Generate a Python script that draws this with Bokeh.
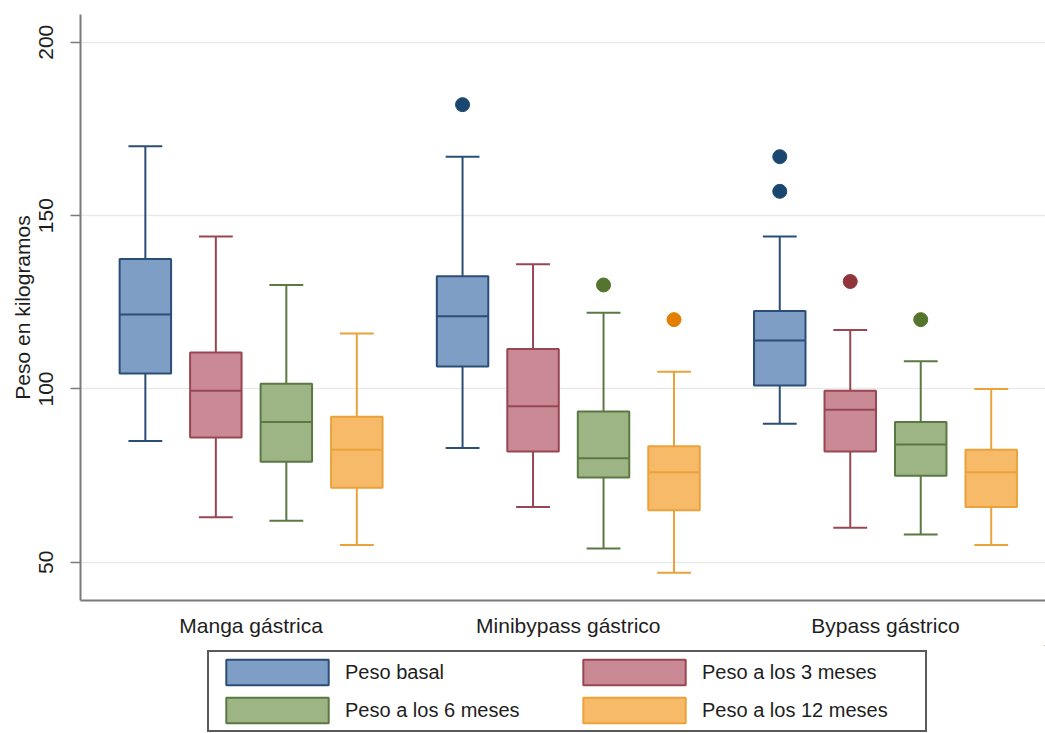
from bokeh.plotting import figure
from bokeh.layouts import column
from bokeh.models import ColumnDataSource, FixedTicker, Legend, LegendItem, Range1d
from bokeh.embed import file_html
from bokeh.resources import INLINE

# ---------------- data ----------------
groups = ["Manga gástrica", "Minibypass gástrico", "Bypass gástrico"]
series = ["Peso basal", "Peso a los 3 meses", "Peso a los 6 meses", "Peso a los 12 meses"]

basal_lo = [85, 83, 90]
basal_q1 = [104.5, 106.5, 101]
basal_med = [121.5, 121, 114]
basal_q3 = [137.5, 132.5, 122.5]
basal_hi = [170, 167, 144]

m3_lo = [63, 66, 60]
m3_q1 = [86, 82, 82]
m3_med = [99.5, 95, 94]
m3_q3 = [110.5, 111.5, 99.5]
m3_hi = [144, 136, 117]

m6_lo = [62, 54, 58]
m6_q1 = [79, 74.5, 75]
m6_med = [90.5, 80, 84]
m6_q3 = [101.5, 93.5, 90.5]
m6_hi = [130, 122, 108]

m12_lo = [55, 47, 55]
m12_q1 = [71.5, 65, 66]
m12_med = [82.5, 76, 76]
m12_q3 = [92, 83.5, 82.5]
m12_hi = [116, 105, 100]

# outliers: (group index, value)
basal_out = [(1, 182), (2, 167), (2, 157)]
m3_out = [(2, 131)]
m6_out = [(1, 130), (2, 120)]
m12_out = [(1, 120)]

y_ticks = [50, 100, 150, 200]

# ---------------- styles ----------------
fills = ["#7f9ec6", "#c98a95", "#9db585", "#f6ba69"]
lines = ["#2b4e76", "#984653", "#5b7843", "#eba23a"]
dots = ["#1a476f", "#90353b", "#55752f", "#e37e00"]
FONT = "Liberation Sans"
TXT = "#1e1e1e"
GROUP_STEP = 4.5
BOX_W = 0.73
CAP_W = 0.48

stats = [
    (basal_lo, basal_q1, basal_med, basal_q3, basal_hi, basal_out),
    (m3_lo, m3_q1, m3_med, m3_q3, m3_hi, m3_out),
    (m6_lo, m6_q1, m6_med, m6_q3, m6_hi, m6_out),
    (m12_lo, m12_q1, m12_med, m12_q3, m12_hi, m12_out),
]

p = figure(width=1045, height=645, output_backend="svg", toolbar_location=None,
           x_range=Range1d(-0.92, 12.77), y_range=Range1d(39, 208),
           min_border_left=80, min_border_right=0, min_border_top=14, min_border_bottom=45)
p.outline_line_color = None
p.background_fill_color = "white"
p.border_fill_color = "white"

# legend-only figure below the plot
lg = figure(width=1045, height=88, output_backend="svg", toolbar_location=None,
            x_range=Range1d(0, 1), y_range=Range1d(0, 1),
            x_axis_location=None, y_axis_location=None,
            min_border_left=0, min_border_right=0, min_border_top=0, min_border_bottom=0)
lg.outline_line_color = None
lg.grid.visible = False
lg.background_fill_color = "white"
lg.border_fill_color = "white"

items = {}
for s, (lo, q1, med, q3, hi, out) in enumerate(stats):
    xs = [g * GROUP_STEP + s for g in range(len(groups))]
    src = ColumnDataSource(dict(x=xs, lo=lo, q1=q1, med=med, q3=q3, hi=hi,
                                cl=[x - CAP_W / 2 for x in xs], cr=[x + CAP_W / 2 for x in xs],
                                bl=[x - BOX_W / 2 for x in xs], br=[x + BOX_W / 2 for x in xs]))
    p.segment(x0="x", y0="q3", x1="x", y1="hi", source=src, line_color=lines[s], line_width=2)
    p.segment(x0="x", y0="q1", x1="x", y1="lo", source=src, line_color=lines[s], line_width=2)
    p.segment(x0="cl", y0="hi", x1="cr", y1="hi", source=src, line_color=lines[s], line_width=2)
    p.segment(x0="cl", y0="lo", x1="cr", y1="lo", source=src, line_color=lines[s], line_width=2)
    p.vbar(x="x", width=BOX_W, bottom="q1", top="q3", source=src,
           fill_color=fills[s], line_color=lines[s], line_width=2)
    p.segment(x0="bl", y0="med", x1="br", y1="med", source=src, line_color=lines[s], line_width=2)
    if out:
        ox = [og * GROUP_STEP + s for og, _ in out]
        oy = [v for _, v in out]
        p.scatter(ox, oy, size=14, fill_color=dots[s], line_color=dots[s])
    # legend proxy, placed outside the legend figure's visible range
    proxy = lg.vbar(x=[5], width=0.1, bottom=[5], top=[6],
                    fill_color=fills[s], line_color=lines[s], line_width=2)
    items[s] = LegendItem(label=series[s], renderers=[proxy])

# axes
p.xgrid.visible = False
p.ygrid.grid_line_color = "#e9e9e9"
p.ygrid.grid_line_width = 1.5
p.ygrid.ticker = FixedTicker(ticks=y_ticks)

p.yaxis.ticker = FixedTicker(ticks=y_ticks)
p.yaxis.minor_tick_line_color = None
p.yaxis.major_tick_in = 0
p.yaxis.major_tick_out = 10
p.yaxis.major_tick_line_color = "#7a7a7a"
p.yaxis.major_tick_line_width = 1.5
p.yaxis.axis_line_color = "#7a7a7a"
p.yaxis.axis_line_width = 2
p.yaxis.major_label_orientation = "vertical"
p.yaxis.major_label_text_font = FONT
p.yaxis.major_label_text_font_size = "21px"
p.yaxis.major_label_text_color = TXT
p.yaxis.major_label_standoff = 17
p.yaxis.axis_label = "Peso en kilogramos"
p.yaxis.axis_label_text_font = FONT
p.yaxis.axis_label_text_font_size = "21px"
p.yaxis.axis_label_text_font_style = "normal"
p.yaxis.axis_label_text_color = TXT
p.yaxis.axis_label_standoff = 3

centers = [g * GROUP_STEP + 1.5 for g in range(len(groups))]
p.xaxis.ticker = FixedTicker(ticks=centers)
p.xaxis.major_label_overrides = {c: g for c, g in zip(centers, groups)}
p.xaxis.minor_tick_line_color = None
p.xaxis.major_tick_line_color = None
p.xaxis.major_tick_in = 0
p.xaxis.major_tick_out = 0
p.xaxis.axis_line_color = "#7a7a7a"
p.xaxis.axis_line_width = 2
p.xaxis.major_label_text_font = FONT
p.xaxis.major_label_text_font_size = "21px"
p.xaxis.major_label_text_color = TXT
p.xaxis.major_label_standoff = 13

# column-major fill: order so that rows read basal | 3m, then 6m | 12m
legend = Legend(items=[items[0], items[2], items[1], items[3]], ncols=2, location=(127, 1))
legend.glyph_width = 128
legend.glyph_height = 32
legend.label_width = 219
legend.label_standoff = 4
legend.spacing = 6
legend.padding = 4
legend.margin = 0
legend.label_text_font = FONT
legend.label_text_font_size = "20px"
legend.label_text_color = TXT
legend.border_line_color = "#5a5a5a"
legend.border_line_alpha = 1
legend.border_line_width = 2
legend.background_fill_color = "white"
legend.background_fill_alpha = 1
lg.add_layout(legend, "center")

layout = column(p, lg, spacing=0)
open("out.html", "w").write(file_html(layout, INLINE))
